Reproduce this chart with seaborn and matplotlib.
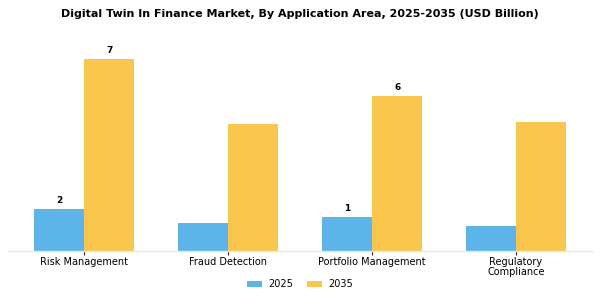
import matplotlib
matplotlib.use("Agg")
import matplotlib.pyplot as plt
import seaborn as sns
import pandas as pd

categories = ["Risk Management", "Fraud Detection", "Portfolio Management", "Regulatory\nCompliance"]
years = ["2025", "2035"]
values_2025 = [1.52, 1.01, 1.23, 0.90]
values_2035 = [7.0, 4.62, 5.66, 4.72]
label_2025 = ["2", "", "1", ""]
label_2035 = ["7", "", "6", ""]

df = pd.DataFrame({
    "Application": categories * 2,
    "Year": [years[0]] * 4 + [years[1]] * 4,
    "Value": values_2025 + values_2035,
})

sns.set_theme(style="white")
plt.rcParams['font.family'] = ['DejaVu Sans']
plt.rcParams['text.color'] = 'black'
plt.rcParams['xtick.color'] = 'black'

fig = plt.figure(figsize=(6, 3), dpi=100)
ax = fig.add_axes([0.013, 0.163, 0.974, 0.70])
palette = {"2025": "#5DB4E8", "2035": "#F9C54C"}
sns.barplot(data=df, x="Application", y="Value", hue="Year", palette=palette,
            width=0.7, ax=ax, saturation=1, legend=True, linewidth=0)

for cont, labs in zip(ax.containers, [label_2025, label_2035]):
    ax.bar_label(cont, labels=labs, fontsize=6.5, fontweight="bold", padding=3, color="black")

ax.set_xlim(-0.53, 3.53)
ax.set_ylim(0, 7.65)
ax.set_xlabel("")
ax.set_ylabel("")
ax.set_yticks([])
for s in ["top", "right", "left"]:
    ax.spines[s].set_visible(False)
ax.spines["bottom"].set_color("#e6e6e6")
ax.spines["bottom"].set_linewidth(1)
ax.tick_params(axis="x", labelsize=7, length=3, width=0.8, color="#333333", pad=1.5, bottom=True)
for t in ax.get_xticklabels():
    t.set_linespacing(0.95)

ax.legend(loc="center", bbox_to_anchor=(0.5, -0.157), ncol=2, frameon=False,
          fontsize=7, handlelength=1.55, handleheight=0.6, handletextpad=0.6,
          columnspacing=1.5)

fig.suptitle("Digital Twin In Finance Market, By Application Area, 2025-2035 (USD Billion)",
             fontsize=8, fontweight="bold", y=0.97)
fig.savefig("out.png", dpi=100)
